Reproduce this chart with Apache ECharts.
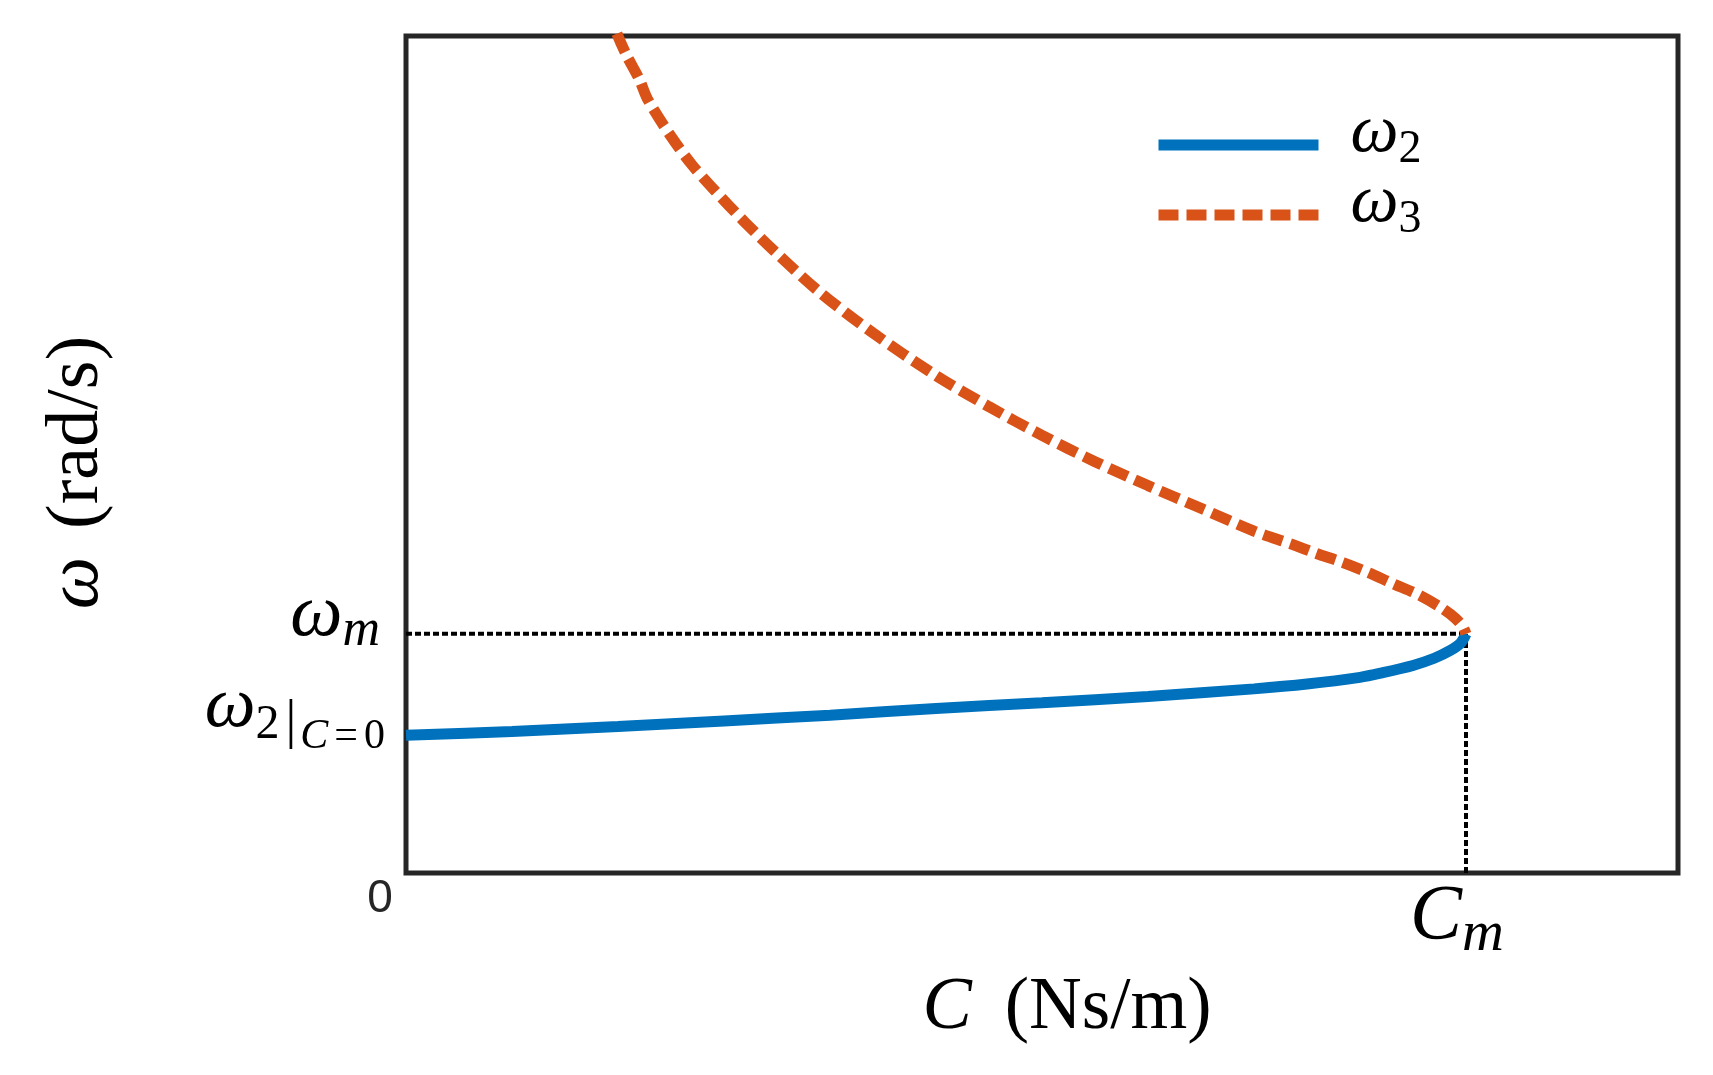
<!DOCTYPE html>
<html><head><meta charset="utf-8">
<script src="https://cdn.jsdelivr.net/npm/echarts@6/dist/echarts.min.js"></script>
<style>html,body{margin:0;padding:0;background:#fff}#c{width:1713px;height:1075px}</style>
</head><body><div id="c"></div>
<script>
// ---- data (units: C relative to C_m, omega relative to omega_m) ----
const X_MAX = 1.2;
const Y_MAX = 3.5;
const C_M = 1.0;
const OMEGA_M = 1.0;
const OMEGA2_C0 = 0.576;

const C_OMEGA2 = [0, 0.1, 0.2, 0.3, 0.4, 0.5, 0.6, 0.7, 0.8, 0.85, 0.9, 0.92, 0.95, 0.97, 0.985, 0.995, 1.0];
const OMEGA2   = [0.576, 0.592, 0.613, 0.636, 0.66, 0.688, 0.712, 0.738, 0.77, 0.79, 0.818, 0.836, 0.868, 0.898, 0.93, 0.962, 1.0];

const C_OMEGA3 = [0.19, 0.199, 0.208, 0.22, 0.228, 0.25, 0.27, 0.29, 0.32, 0.35, 0.39, 0.44, 0.5, 0.55, 0.6, 0.65, 0.7, 0.75, 0.8, 0.836, 0.859, 0.884, 0.908, 0.931, 0.955, 0.977, 0.99, 0.997, 1.0];
const OMEGA3   = [3.62, 3.51, 3.42, 3.32, 3.235, 3.08, 2.96, 2.86, 2.72, 2.59, 2.43, 2.26, 2.08, 1.95, 1.83, 1.72, 1.62, 1.525, 1.43, 1.374, 1.336, 1.298, 1.256, 1.21, 1.164, 1.108, 1.065, 1.03, 1.0];

const SERIES_NAMES = ['w2', 'w3'];
const SERIES_SUBS = ['2', '3'];
const ORIGIN_LABEL = '0';

// ---- chart ----
const SERIF = "'Liberation Serif', 'DejaVu Serif', serif";
const zip = (xs, ys) => xs.map((x, i) => [x, ys[i]]);
const chart = echarts.init(document.getElementById('c'), null, {renderer: 'canvas'});

const legendRich = {
  w: {fontFamily: SERIF, fontStyle: 'italic', fontSize: 68, lineHeight: 36, padding: [0, 0, 24, 27], color: '#000'},
  s: {fontFamily: SERIF, fontSize: 46, lineHeight: 30, padding: [9, 0, 0, 0], color: '#000'}
};
const makeLegend = (idx, top) => ({
  data: [SERIES_NAMES[idx]], orient: 'vertical', left: 1153, top: top, padding: 0,
  itemWidth: 160, itemHeight: 14, itemGap: 0, align: 'left',
  itemStyle: {opacity: 0}, lineStyle: {width: 11},
  formatter: name => '{w|ω}{s|' + SERIES_SUBS[SERIES_NAMES.indexOf(name)] + '}',
  textStyle: {rich: legendRich}
});

const option = {
  animation: false,
  backgroundColor: '#ffffff',
  grid: {left: 406, top: 36, width: 1272, height: 837, show: true, borderColor: '#262626', borderWidth: 5, backgroundColor: 'transparent'},
  xAxis: {
    type: 'value', min: 0, max: X_MAX,
    axisLine: {show: false}, axisTick: {show: false}, axisLabel: {show: false}, splitLine: {show: false},
    name: '{i|C}{r|(Ns/m)}', nameLocation: 'middle', nameGap: 96,
    nameTextStyle: {
      color: '#000', padding: [0, 0, 0, 50],
      rich: {
        i: {fontFamily: SERIF, fontStyle: 'italic', fontSize: 74, lineHeight: 80, color: '#000', padding: [0, 33, 0, 0]},
        r: {fontFamily: SERIF, fontSize: 73, lineHeight: 80, color: '#000'}
      }
    }
  },
  yAxis: {
    type: 'value', min: 0, max: Y_MAX,
    axisLine: {show: false}, axisTick: {show: false}, axisLabel: {show: false}, splitLine: {show: false},
    name: '{i|ω}{r|(rad/s)}', nameLocation: 'middle', nameGap: 288, nameRotate: 90,
    nameTextStyle: {
      color: '#000', padding: [0, 36, 0, 0],
      rich: {
        i: {fontFamily: SERIF, fontStyle: 'italic', fontSize: 74, lineHeight: 80, color: '#000', padding: [0, 28, 0, 0]},
        r: {fontFamily: SERIF, fontSize: 74, lineHeight: 80, color: '#000'}
      }
    }
  },
  legend: [makeLegend(0, 99), makeLegend(1, 169)],
  series: [
    {type: 'line', name: 'guideH', data: [[0, OMEGA_M], [C_M, OMEGA_M]], symbol: 'none', silent: true, z: 1,
     lineStyle: {color: '#000', width: 4, type: [6, 3]}},
    {type: 'line', name: 'guideV', data: [[C_M, 0], [C_M, OMEGA_M]], symbol: 'none', silent: true, z: 1,
     lineStyle: {color: '#000', width: 4, type: [6, 3]}},
    {type: 'line', name: 'w2', data: zip(C_OMEGA2, OMEGA2), symbol: 'none', smooth: 0.3, z: 3,
     itemStyle: {color: '#0072BD'}, lineStyle: {color: '#0072BD', width: 11}},
    {type: 'line', name: 'w3', data: zip(C_OMEGA3, OMEGA3), symbol: 'none', smooth: 0.3, z: 4,
     itemStyle: {color: '#D95319'}, lineStyle: {color: '#D95319', width: 11, type: [20, 8]}}
  ]
};
chart.setOption(option);

const px = (x, y) => chart.convertToPixel({xAxisIndex: 0, yAxisIndex: 0}, [x, y]);
const pM = px(0, OMEGA_M);
const p20 = px(0, OMEGA2_C0);
const pC = px(C_M, 0);
const p0 = px(0, 0);

chart.setOption({
  graphic: [
    {type: 'text', x: pM[0] - 26, y: pM[1] - 18, style: {
      text: '{w|ω}{s|m}', align: 'right', verticalAlign: 'middle',
      rich: {
        w: {fontFamily: SERIF, fontStyle: 'italic', fontSize: 74, lineHeight: 60, fill: '#000'},
        s: {fontFamily: SERIF, fontStyle: 'italic', fontSize: 52, lineHeight: 30, padding: [30, 0, 0, 0], fill: '#000'}
      }}},
    {type: 'text', x: p20[0] - 21, y: p20[1] - 28, style: {
      text: '{w|ω}{s|2}{b||}{c|C}{e|=}{z|0}', align: 'right', verticalAlign: 'middle',
      rich: {
        w: {fontFamily: SERIF, fontStyle: 'italic', fontSize: 72, lineHeight: 60, fill: '#000'},
        s: {fontFamily: SERIF, fontSize: 48, lineHeight: 30, padding: [37, 0, 0, 0], fill: '#000'},
        b: {fontFamily: SERIF, fontSize: 54, lineHeight: 30, padding: [31, 4, 0, 6], fill: '#000'},
        c: {fontFamily: SERIF, fontStyle: 'italic', fontSize: 42, lineHeight: 24, padding: [59, 0, 0, 0], fill: '#000'},
        e: {fontFamily: SERIF, fontSize: 42, lineHeight: 24, padding: [59, 6, 0, 6], fill: '#000'},
        z: {fontFamily: SERIF, fontSize: 42, lineHeight: 24, padding: [59, 0, 0, 0], fill: '#000'}
      }}},
    {type: 'text', x: pC[0] - 56, y: pC[1] + 44, style: {
      text: '{w|C}{s|m}', align: 'left', verticalAlign: 'middle',
      rich: {
        w: {fontFamily: SERIF, fontStyle: 'italic', fontSize: 78, lineHeight: 70, fill: '#000'},
        s: {fontFamily: SERIF, fontStyle: 'italic', fontSize: 58, lineHeight: 30, padding: [36, 0, 0, 0], fill: '#000'}
      }}},
    {type: 'text', x: p0[0] - 26, y: p0[1] + 26, style: {
      text: ORIGIN_LABEL, align: 'center', verticalAlign: 'middle',
      fontFamily: "'Liberation Sans', Arial, sans-serif", fontSize: 46, fill: '#262626'}}
  ]
});
</script>
</body></html>
